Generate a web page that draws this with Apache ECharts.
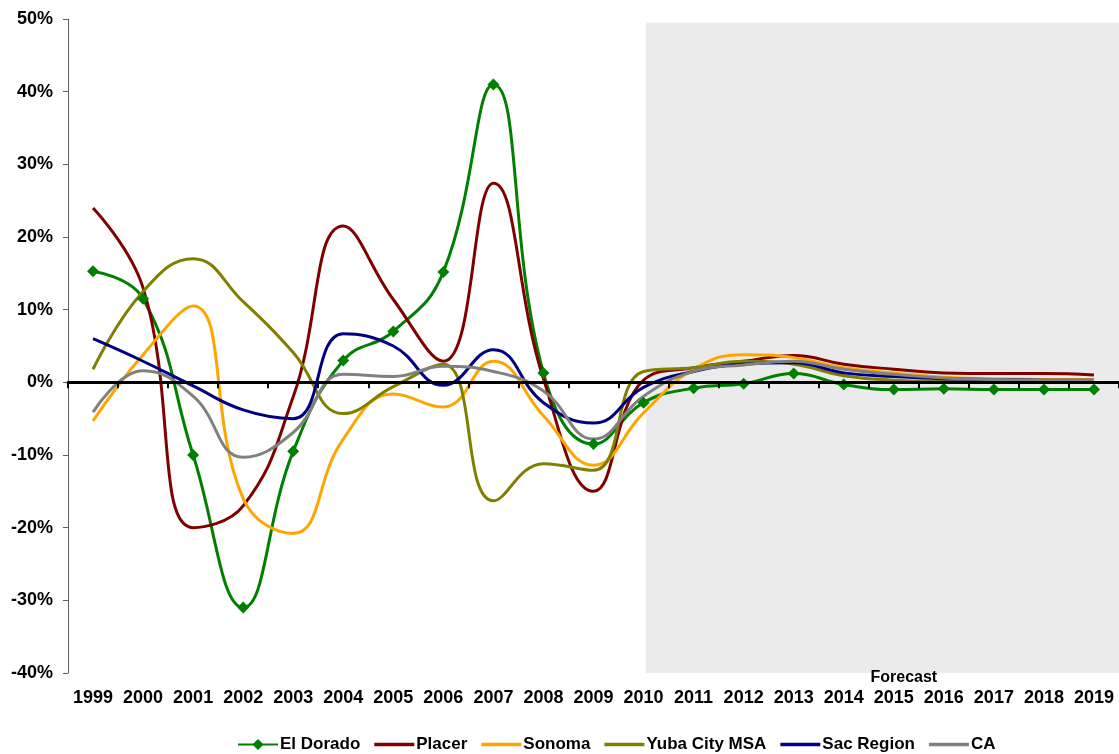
<!DOCTYPE html>
<html>
<head>
<meta charset="utf-8">
<script src="https://cdn.jsdelivr.net/npm/echarts@6/dist/echarts.min.js"></script>
<style>
html,body{margin:0;padding:0;background:#fff;}
#chart{width:1119px;height:754px;}
</style>
</head>
<body>
<div id="chart"></div>
<script>
const years = ['1999','2000','2001','2002','2003','2004','2005','2006','2007','2008','2009','2010','2011','2012','2013','2014','2015','2016','2017','2018','2019'];
const elDorado = [15.3, 11.5, -10.0, -31.0, -9.5, 3.0, 7.0, 15.2, 41.0, 1.3, -8.5, -2.8, -0.8, -0.2, 1.2, -0.3, -1.0, -0.9, -1.0, -1.0, -1.0];
const placer   = [24.0, 13.0, -20.0, -17.0, -2.0, 21.5, 11.4, 2.9, 27.4, 0.5, -15.0, 0.3, 2.0, 2.9, 3.7, 2.5, 1.8, 1.3, 1.2, 1.2, 1.0];
const sonoma   = [-5.3, 3.8, 10.5, -16.0, -20.8, -7.8, -1.6, -3.4, 2.9, -4.6, -11.4, -4.2, 1.8, 3.8, 3.4, 2.0, 1.3, 0.7, 0.5, 0.4, 0.4];
const yuba     = [1.8, 12.5, 17.0, 11.1, 4.1, -4.3, -0.6, 2.5, -16.3, -11.2, -12.1, 1.5, 2.0, 2.9, 2.5, 0.9, 0.3, 0.1, 0.0, 0.0, 0.0];
const sac      = [6.0, 2.9, -0.5, -3.8, -5.0, 6.7, 5.0, -0.4, 4.5, -2.8, -5.6, -0.7, 1.5, 2.5, 2.7, 1.3, 0.8, 0.5, 0.4, 0.3, 0.3];
const ca       = [-4.1, 1.6, -1.9, -10.3, -6.9, 1.1, 0.8, 2.2, 1.5, -1.2, -7.8, -1.9, 1.5, 2.4, 2.9, 1.8, 1.1, 0.6, 0.4, 0.3, 0.3];
const yTicks = {min: -40, max: 50, interval: 10};
const forecastRange = {start: 11.55, end: 21, top: 49.5, bottom: -40};

const chart = echarts.init(document.getElementById('chart'));
const font = '"Liberation Sans", Arial, sans-serif';
const smooth = 0.45;
const lineIcon = 'path://M0,0H40V3.5H0Z';
function lineSeries(name, data, color, extra) {
  return Object.assign({
    name: name, type: 'line', data: data, xAxisIndex: 0, yAxisIndex: 0,
    smooth: smooth, symbol: 'none', z: 2,
    lineStyle: {color: color, width: 3},
    itemStyle: {color: color}
  }, extra || {});
}
chart.setOption({
  animation: false,
  backgroundColor: '#fff',
  textStyle: {fontFamily: font},
  grid: {left: 68, right: 0, top: 19, bottom: 81, containLabel: false},
  legend: {
    left: 232, top: 731, itemWidth: 40, itemHeight: 14, itemGap: 14,
    symbolKeepAspect: true,
    textStyle: {fontFamily: font, fontSize: 17, fontWeight: 'bold', color: '#000', padding: [0,0,0,-3]},
    data: [
      {name: 'El Dorado'},
      {name: 'Placer', icon: lineIcon},
      {name: 'Sonoma', icon: lineIcon},
      {name: 'Yuba City MSA', icon: lineIcon},
      {name: 'Sac Region', icon: lineIcon},
      {name: 'CA', icon: lineIcon}
    ]
  },
  xAxis: [
    {type: 'category', data: years, boundaryGap: true, position: 'bottom',
     axisLine: {onZero: true, lineStyle: {color: '#000', width: 3}},
     axisTick: {show: true, length: 6, interval: 0, lineStyle: {color: '#000', width: 2}},
     axisLabel: {show: false}, splitLine: {show: false}, z: 5},
    {type: 'value', min: 0, max: 21, show: false, axisLine: {onZero: false}},
    {type: 'category', data: years, boundaryGap: true, position: 'bottom',
     axisLine: {show: false, onZero: false}, axisTick: {show: false},
     axisLabel: {show: true, interval: 0, margin: 16, fontFamily: font, fontSize: 18, fontWeight: 'bold', color: '#000'},
     splitLine: {show: false}}
  ],
  yAxis: {
    type: 'value', min: yTicks.min, max: yTicks.max, interval: yTicks.interval,
    axisLine: {show: true, lineStyle: {color: '#606060', width: 1}},
    axisTick: {show: true, length: 5, lineStyle: {color: '#606060'}},
    axisLabel: {formatter: '{value}%', margin: 15, fontFamily: font, fontSize: 18, fontWeight: 'bold', color: '#000'},
    splitLine: {show: false}
  },
  series: [
    lineSeries('El Dorado', elDorado, '#008000', {symbol: 'diamond', symbolSize: 12, showSymbol: true}),
    lineSeries('Placer', placer, '#800000'),
    lineSeries('Sonoma', sonoma, '#FFA500'),
    lineSeries('Yuba City MSA', yuba, '#808000'),
    lineSeries('Sac Region', sac, '#000080'),
    lineSeries('CA', ca, '#808080'),
    {
      name: 'forecast', type: 'line', xAxisIndex: 1, yAxisIndex: 0, data: [], z: 10,
      silent: true,
      markArea: {
        silent: true,
        itemStyle: {color: 'rgba(195,195,195,0.33)'},
        label: {show: true, position: ['54.5%', '100%'], align: 'center', verticalAlign: 'middle',
                fontFamily: font, fontSize: 16, fontWeight: 'bold', color: '#000', offset: [0, 5]},
        data: [[
          {name: 'Forecast', xAxis: forecastRange.start, yAxis: forecastRange.top},
          {xAxis: forecastRange.end, yAxis: forecastRange.bottom}
        ]]
      }
    }
  ]
});
</script>
</body>
</html>
